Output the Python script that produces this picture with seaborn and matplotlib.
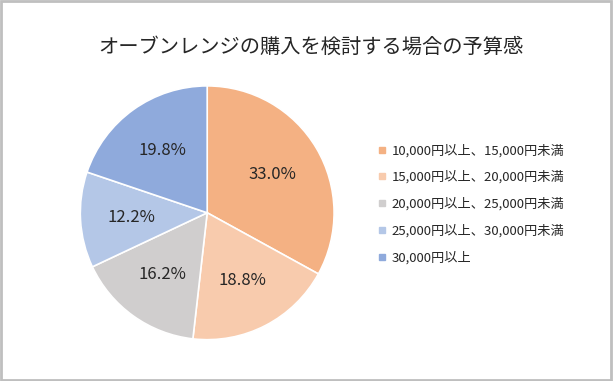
import matplotlib
matplotlib.use("Agg")
import matplotlib.pyplot as plt
import seaborn as sns
from matplotlib.patches import Rectangle
from matplotlib.lines import Line2D

categories = ["10,000円以上、15,000円未満", "15,000円以上、20,000円未満",
              "20,000円以上、25,000円未満", "25,000円以上、30,000円未満", "30,000円以上"]
values = [33.0, 18.8, 16.2, 12.2, 19.8]
colors = ["#F4B183", "#F8CBAD", "#D0CECE", "#B4C7E7", "#8FAADC"]
title = "オーブンレンジの購入を検討する場合の予算感"

sns.set_theme(style="white")
plt.rcParams['font.family'] = ['Noto Sans CJK JP', 'DejaVu Sans']

fig = plt.figure(figsize=(6.13, 3.81), dpi=100)
ax = fig.add_axes([0.131, 0.108, 0.414, 0.667])
wedges, texts, autotexts = ax.pie(
    values, colors=sns.color_palette(colors), startangle=90, counterclock=False,
    autopct=lambda p: f"{p:.1f}%", pctdistance=0.6,
    wedgeprops=dict(edgecolor="white", linewidth=1.2),
    textprops=dict(fontsize=12, color="#262626"))
ax.set_aspect("equal")
ax.set_xlim(-1, 1)
ax.set_ylim(-1, 1)

fig.text(311 / 613, 1 - 47 / 381, title, ha="center", va="center", fontsize=14.6, color="#262626")

handles = [Line2D([], [], marker="s", linestyle="", markersize=5, markerfacecolor=c,
                  markeredgecolor=c) for c in colors]
fig.legend(handles, categories, loc="upper left", bbox_to_anchor=(366 / 613, 1 - 132 / 381),
           frameon=False, fontsize=9.5, handlelength=0.6, handletextpad=0.45,
           labelspacing=1.02, labelcolor="#262626")

fig.patches.append(Rectangle((0.002, 0.003), 0.995, 0.994, transform=fig.transFigure,
                             fill=False, edgecolor="#BFBFBF", linewidth=2.0))
fig.savefig("out.png", dpi=100)
